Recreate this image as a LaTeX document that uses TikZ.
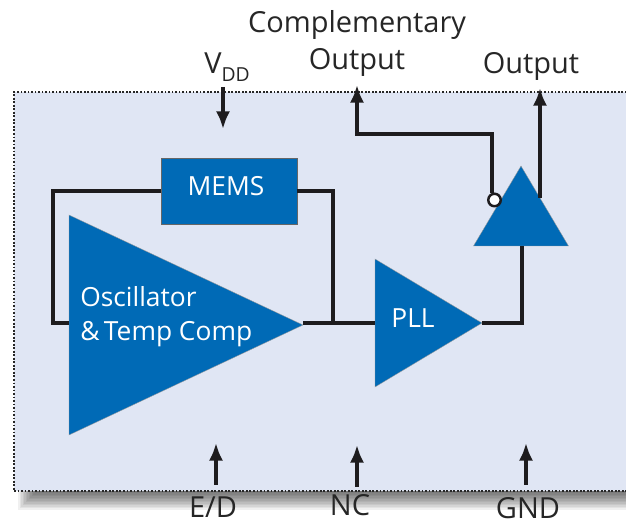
\documentclass[tikz,border=0pt]{standalone}
\usepackage{fontspec}
\usepackage{xcolor}
\setmainfont{Open Sans}
\usetikzlibrary{arrows.meta,shapes.geometric}
\definecolor{chipblue}{RGB}{0, 106, 182}
\definecolor{panelblue}{RGB}{224, 230, 244}
\definecolor{wireblack}{RGB}{30, 28, 30}
\begin{document}
\begin{tikzpicture}[
        x=0.02cm, y=-0.02cm,
        panel/.style={rectangle, draw=black!85, line width=1pt, densely dotted, fill=panelblue, minimum width=12.4cm, minimum height=7.98cm, inner sep=0pt, outer sep=0pt},
        block/.style={rectangle, draw=black!60, line width=0.5pt, fill=chipblue, minimum width=2.72cm, minimum height=1.32cm, inner sep=0pt, outer sep=0pt},
        amp/.style={isosceles triangle, isosceles triangle stretches, fill=chipblue, draw=black!40, line width=0.2pt, inner sep=0pt, outer sep=0pt, anchor=apex},
        bubble/.style={circle, draw=wireblack, line width=1.4pt, fill=white, minimum size=0.25cm, inner sep=0pt},
        wire/.style={draw=wireblack, line width=1.9pt},
        flow/.style={wire, -{Latex[length=10pt, width=8pt]}},
        blocktext/.style={text=white, font=\fontsize{15}{15}\selectfont, inner sep=0pt},
        pintext/.style={text=black!85, font=\fontsize{16.5}{16.5}\selectfont, inner sep=0pt}
    ]
    \useasboundingbox (0,0) rectangle (626,523);

    % Shadow and chip outline
    \foreach \d in {0,1.5,...,18} {
        \fill[black, opacity=0.06] (18+\d,400) rectangle (640,510-\d);
    }
    \node[panel] (chip) at (324,291.5) {};

    % Blocks
    \node[block] (mems) at (229,191) {};
    \node[amp, minimum width=4.4cm, minimum height=4.68cm] (osc) at (303,325) {};
    \node[amp, minimum width=2.56cm, minimum height=2.14cm] (pll) at (482,323) {};
    \node[amp, shape border rotate=90, minimum width=1.9cm, minimum height=1.6cm] (buf) at (521,166) {};
    \node[bubble] (inv) at (494.5,200) {};

    % Block texts
    \node[blocktext] (memstext) at (226,186.5) {MEMS};
    \node[blocktext, anchor=west] (osctext1) at (80,297) {Oscillator};
    \node[blocktext, anchor=west] (osctext2) at (80,334) {\&\,Temp Comp};
    \node[blocktext] (plltext) at (413,318) {PLL};

    % Pin labels
    \node[pintext] (comptext) at (357,25) {Complementary};
    \node[pintext] (compout) at (357,62) {Output};
    \node[pintext] (output) at (531,66) {Output};
    \node[pintext] (vdd) at (227,67) {V\raisebox{-4.5pt}{\fontsize{11}{11}\selectfont DD}};
    \node[pintext] (ed) at (213,507) {E/D};
    \node[pintext] (nc) at (350,505) {NC};
    \node[pintext] (gnd) at (528,508) {GND};

    % Free ends
    \coordinate (oscin) at (53,323);
    \coordinate (tap) at (333,323);
    \coordinate (pllout) at (522,323);
    \coordinate (compbend) at (357,134);
    \coordinate (comptip) at (357,85);
    \coordinate (outtap) at (540,198);
    \coordinate (outtip) at (540,88);
    \coordinate (vddfrom) at (223,87);
    \coordinate (vddtip) at (223,129);
    \coordinate (edfrom) at (216,485);
    \coordinate (edtip) at (216,443);
    \coordinate (ncfrom) at (357,487);
    \coordinate (nctip) at (357,445);
    \coordinate (gndfrom) at (526,485);
    \coordinate (gndtip) at (526,443);

    % Loop round the oscillator
    \draw[wire] (mems.west) -| (oscin) -- (oscin -| osc.lower side);
    \draw[wire] (mems.east) -| (tap);
    \draw[wire] (oscin -| osc.apex) -- (oscin -| pll.lower side);

    % Outputs
    \draw[wire] (pll.apex) -- (pllout) -- (pllout |- buf.lower side);
    \draw[flow] (inv.110) |- (compbend) -- (comptip);
    \draw[flow] (outtap) -- (outtip);

    % Pins
    \draw[flow] (vddfrom) -- (vddtip);
    \draw[flow] (edfrom) -- (edtip);
    \draw[flow] (ncfrom) -- (nctip);
    \draw[flow] (gndfrom) -- (gndtip);
    \end{tikzpicture}
\end{document}
